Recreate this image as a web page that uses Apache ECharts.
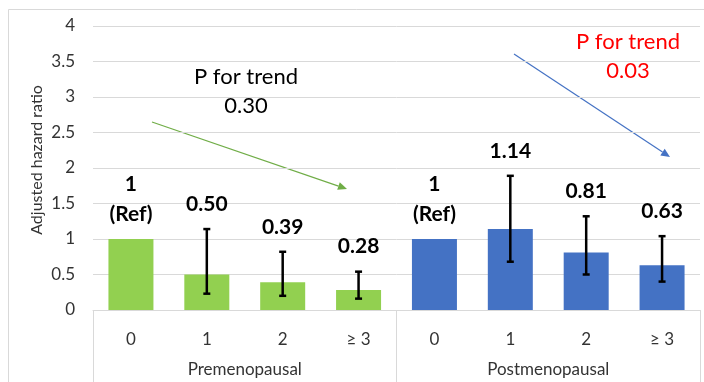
<!DOCTYPE html>
<html>
<head>
<meta charset="utf-8">
<script src="https://cdn.jsdelivr.net/npm/echarts@6/dist/echarts.min.js"></script>
<style>html,body{margin:0;padding:0;background:#fff}#c{width:704px;height:382px}</style>
</head>
<body>
<div id="c"></div>
<script>
var categories = ['0', '1', '2', '\u2265 3', '0', '1', '2', '\u2265 3'];
var groups = ['Premenopausal', 'Postmenopausal'];
var groupOf = [0, 0, 0, 0, 1, 1, 1, 1];
var hazardRatio = [1, 0.50, 0.39, 0.28, 1, 1.14, 0.81, 0.63];
var lowerCI = [null, 0.23, 0.20, 0.16, null, 0.68, 0.50, 0.40];
var upperCI = [null, 1.14, 0.82, 0.54, null, 1.89, 1.32, 1.04];
var barLabels = ['1\n(Ref)', '0.50', '0.39', '0.28', '1\n(Ref)', '1.14', '0.81', '0.63'];
var yTicks = [0, 0.5, 1, 1.5, 2, 2.5, 3, 3.5, 4];
var trendTexts = ['P for trend\n0.30', 'P for trend\n0.03'];

var groupColors = ['#92d050', '#4472c4'];
var FONT = 'Lato, "Liberation Sans", sans-serif';

var chart = echarts.init(document.getElementById('c'), null, {renderer: 'canvas'});

var barData = hazardRatio.map(function (v, i) {
  return {value: v, itemStyle: {color: groupColors[groupOf[i]]}};
});
var errData = hazardRatio.map(function (v, i) {
  return [i, v, lowerCI[i] == null ? '-' : lowerCI[i], upperCI[i] == null ? '-' : upperCI[i]];
});

function arrow(x1, y1, x2, y2, color) {
  var ang = Math.atan2(y2 - y1, x2 - x1);
  var L = 9, W = 4;
  var bx = x2 - L * Math.cos(ang), by = y2 - L * Math.sin(ang);
  var px = -Math.sin(ang) * W, py = Math.cos(ang) * W;
  return [
    {type: 'line', shape: {x1: x1, y1: y1, x2: bx, y2: by}, style: {stroke: color, lineWidth: 1.2}},
    {type: 'polygon', shape: {points: [[x2, y2], [bx + px, by + py], [bx - px, by - py]]}, style: {fill: color}}
  ];
}

var option = {
  animation: false,
  backgroundColor: '#fff',
  grid: {left: 93, right: 4, top: 26, bottom: 72, containLabel: false},
  xAxis: [
    {
      type: 'category',
      data: categories,
      axisLine: {show: true, lineStyle: {color: '#d9d9d9', width: 1}},
      axisTick: {show: false},
      axisLabel: {color: '#333', fontFamily: FONT, fontSize: 17, margin: 21, interval: 0}
    },
    {
      type: 'category',
      data: groups,
      position: 'bottom',
      axisLine: {show: false},
      axisTick: {show: true, length: 72, lineStyle: {color: '#d9d9d9', width: 1}},
      axisLabel: {color: '#333', fontFamily: FONT, fontSize: 17, margin: 51}
    }
  ],
  yAxis: {
    type: 'value',
    min: yTicks[0],
    max: yTicks[yTicks.length - 1],
    interval: 0.5,
    axisLine: {show: false},
    axisTick: {show: false},
    splitLine: {lineStyle: {color: '#d9d9d9', width: 1}},
    axisLabel: {color: '#333', fontFamily: FONT, fontSize: 17, margin: 18}
  },
  series: [
    {
      type: 'bar',
      data: barData,
      barWidth: 45,
      z: 2
    },
    {
      type: 'custom',
      data: errData,
      z: 5,
      renderItem: function (params, api) {
        var i = params.dataIndex;
        var x = api.value(0);
        var hr = api.value(1);
        var lo = api.value(2);
        var up = api.value(3);
        var children = [];
        if (!isNaN(lo) && !isNaN(up)) {
          var pTop = api.coord([x, up]);
          var pBot = api.coord([x, lo]);
          var cx = pTop[0], cap = 3.5;
          children.push({type: 'line', shape: {x1: cx, y1: pTop[1], x2: cx, y2: pBot[1]}, style: {stroke: '#000', lineWidth: 2.5}});
          children.push({type: 'line', shape: {x1: cx - cap, y1: pTop[1], x2: cx + cap, y2: pTop[1]}, style: {stroke: '#000', lineWidth: 2.5}});
          children.push({type: 'line', shape: {x1: cx - cap, y1: pBot[1], x2: cx + cap, y2: pBot[1]}, style: {stroke: '#000', lineWidth: 2.5}});
          children.push({type: 'text', style: {x: cx, y: pTop[1] - 25, text: barLabels[i], fill: '#000', font: 'bold 21px ' + FONT, align: 'center', verticalAlign: 'middle'}});
        } else {
          var p = api.coord([x, hr]);
          children.push({type: 'text', style: {x: p[0], y: p[1] - 40, text: barLabels[i], fill: '#000', font: 'bold 21px ' + FONT, align: 'center', verticalAlign: 'middle', lineHeight: 30}});
        }
        return {type: 'group', children: children};
      }
    }
  ],
  graphic: [
    {type: 'rect', z: -10, shape: {x: 8.5, y: 9.5, width: 720, height: 400}, style: {fill: 'none', stroke: '#d9d9d9', lineWidth: 1}},
    {type: 'text', x: 37, y: 160, rotation: Math.PI / 2, style: {text: 'Adjusted hazard ratio', fill: '#333', font: '16px ' + FONT, align: 'center', verticalAlign: 'middle'}},
    {type: 'text', x: 246, y: 91, style: {text: trendTexts[0], fill: '#000', font: '22px ' + FONT, align: 'center', verticalAlign: 'middle', lineHeight: 29}},
    {type: 'text', x: 628, y: 56, style: {text: trendTexts[1], fill: '#ff0000', font: '22px ' + FONT, align: 'center', verticalAlign: 'middle', lineHeight: 29}},
    {type: 'group', children: arrow(152, 122, 347, 189, '#70ad47')},
    {type: 'group', children: arrow(514, 54, 670, 157, '#4472c4')}
  ]
};
chart.setOption(option);
</script>
</body>
</html>
